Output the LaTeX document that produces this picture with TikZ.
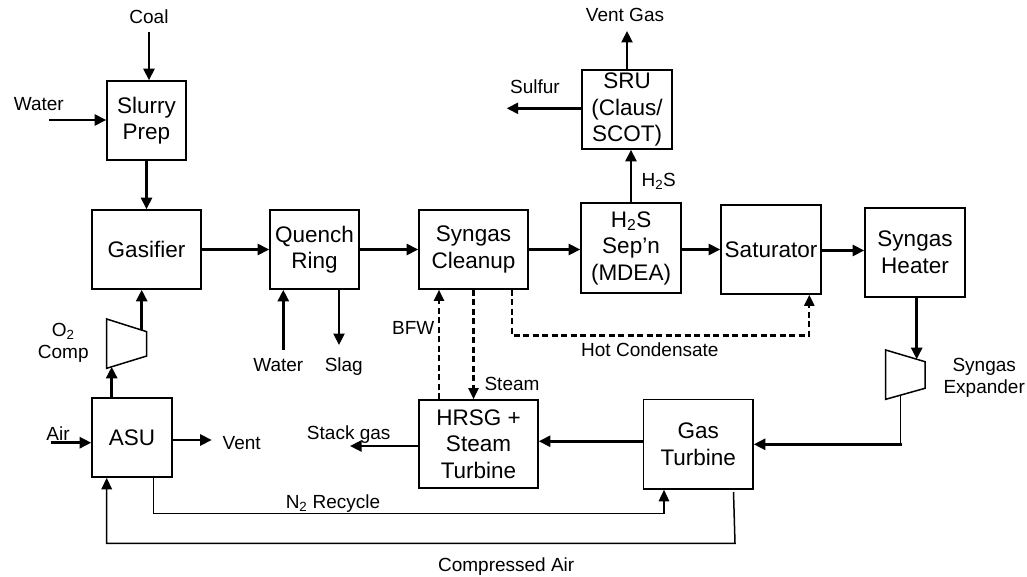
\documentclass[tikz,border=0pt]{standalone}
\usepackage{fontspec}
\setmainfont{Liberation Sans}
\usetikzlibrary{arrows.meta}
\newcommand{\bxfont}{\fontsize{22.5}{26.5}\selectfont}
\newcommand{\lbfont}{\fontsize{19}{22.6}\selectfont}
\begin{document}
\begin{tikzpicture}[x=1pt,y=-1pt,
  box/.style={draw, line width=1.6pt, inner sep=0pt, align=center, font=\bxfont},
  lbl/.style={inner sep=0pt, font=\lbfont},
  lbl2/.style={inner sep=0pt, font=\lbfont, align=center},
  flow/.style={line width=2.5pt, -{Triangle[length=11.5pt,width=11pt]}},
  thinflow/.style={line width=1.5pt, -{Triangle[length=11.5pt,width=10.5pt]}},
  dflow/.style={line width=2.2pt, dash pattern=on 6pt off 3.5pt, -{Triangle[length=11pt,width=10pt]}},
  unitshape/.style={draw, line width=1.5pt, line join=miter}
]
\fill[white] (0,0) rectangle (1027,577);
\useasboundingbox (0,0) rectangle (1027,577);

% ---------- boxes ----------
\node[box, minimum width=79pt, minimum height=79pt] (slurry) at (146.5,120.5) {Slurry\\Prep};
\node[box, minimum width=109pt, minimum height=79pt] (gasifier) at (146.5,249.5) {Gasifier};
\node[box, minimum width=89pt, minimum height=79pt] (quench) at (314.5,249.5) {Quench\\Ring};
\node[box, minimum width=109pt, minimum height=79pt] (cleanup) at (473.5,249.5) {Syngas\\Cleanup};
\node[box, minimum width=100pt, minimum height=90pt] (h2s) at (631,248) {H\textsubscript{2}S\\Sep’n\\(MDEA)};
\node[box, minimum width=90pt, minimum height=79pt] (sru) at (627,109.5) {SRU\\(Claus/\\SCOT)};
\node[box, minimum width=100pt, minimum height=89pt] (sat) at (771,249.5) {Saturator};
\node[box, minimum width=100pt, minimum height=89pt] (heater) at (915,252.5) {Syngas\\Heater};
\node[box, minimum width=80pt, minimum height=79pt] (asu) at (132,437.5) {ASU};
\node[box, minimum width=119pt, minimum height=88pt] (hrsg) at (478.5,444) {HRSG +\\Steam\\Turbine};
\node[box, minimum width=109.5pt, minimum height=89.5pt] (gt) at (698.25,444.25) {Gas\\Turbine};

% ---------- compressor / expander ----------
\coordinate (c1) at (106.7,319);
\coordinate (c2) at (146.7,331.7);
\coordinate (c3) at (146.7,356);
\coordinate (c4) at (106.7,368.3);
\draw[unitshape] (c1) -- (c2) -- (c3) -- (c4) -- cycle;
\coordinate (e1) at (885.7,350);
\coordinate (e2) at (925,361.7);
\coordinate (e3) at (925,388.3);
\coordinate (e4) at (885.7,399.3);
\draw[unitshape] (e1) -- (e2) -- (e3) -- (e4) -- cycle;

% ---------- labels ----------
\node[lbl, anchor=base] (coal) at (149,23.5) {Coal};
\node[lbl, anchor=base] (water1) at (38.8,111) {Water};
\node[lbl, anchor=base] (ventgas) at (625,22) {Vent Gas};
\node[lbl, anchor=base] (sulfur) at (535,94) {Sulfur};
\node[lbl, anchor=base] (h2slbl) at (658.7,186.5) {H\textsubscript{2}S};
\node[lbl2, anchor=north] (o2comp) at (63.3,322.9) {O\textsubscript{2}\\Comp};
\node[lbl, anchor=base] (air) at (58,440) {Air};
\node[lbl, anchor=base] (vent) at (241.7,449) {Vent};
\node[lbl, anchor=base] (water2) at (278.3,371) {Water};
\node[lbl, anchor=base] (slag) at (343.8,371) {Slag};
\node[lbl, anchor=base] (bfw) at (413.3,334) {BFW};
\node[lbl, anchor=base] (steam) at (512,390) {Steam};
\node[lbl, anchor=base west] (hotcond) at (581,356) {Hot Condensate};
\node[lbl, anchor=base] (stack) at (348.7,439) {Stack gas};
\node[lbl, anchor=base] (n2lbl) at (333,508.3) {N\textsubscript{2} Recycle};
\node[lbl, anchor=base] (calbl) at (506.2,571.7) {Compressed Air};
\node[lbl2, anchor=north] (explbl) at (984.2,357.9) {Syngas\\Expander};

% ---------- main flow ----------
\coordinate (coalin) at (149,32);
\draw[flow] (coalin) -- (coalin |- slurry.north);
\coordinate (waterin) at (49,120);
\draw[flow] (waterin) -- (waterin -| slurry.west);
\draw[flow] (slurry.south) -- (gasifier.north);
\draw[flow] (gasifier.east) -- (quench.west);
\draw[flow] (quench.east) -- (quench.east -| cleanup.west);
\draw[flow] (cleanup.east) -- (cleanup.east -| h2s.west);
\draw[flow] (sat.west -| h2s.east) -- (sat.west);
\draw[flow] ([yshift=-1pt]sat.east) -- ([yshift=-1pt]sat.east -| heater.west);
\draw[flow] (h2s.north) -- (h2s.north |- sru.south);
\coordinate (ventout) at (627,31);
\draw[flow] (sru.north) -- (ventout);
\coordinate (sulfurout) at (506.7,108.3);
\draw[flow] (sru.west |- sulfurout) -- (sulfurout);

% quench water / slag
\coordinate (qwater) at (283.3,350);
\draw[flow] (qwater) -- (qwater |- quench.south);
\coordinate (slagout) at (339,345);
\draw[flow] (slagout |- quench.south) -- (slagout);

% syngas heater -> expander -> gas turbine
\coordinate (expin) at (916.7,359.2);
\draw[flow] (expin |- heater.south) -- (expin);
\coordinate (expout) at (900.7,395.1);
\coordinate (expcorner) at (900.7,444.3);
\draw[line width=1.5pt] (expout) -- (expcorner);
\draw[flow] ([xshift=1.3pt]expcorner) -- (expcorner -| gt.east);

% gas turbine -> HRSG -> stack
\draw[flow] ([yshift=3pt]gt.west) -- ([yshift=3pt]gt.west -| hrsg.east);
\coordinate (stackout) at (350,446);
\draw[flow] (stackout -| hrsg.west) -- (stackout);

% ASU, O2 compressor
\coordinate (compin) at (111.7,366.8);
\draw[flow] (compin |- asu.north) -- (compin);
\coordinate (compout) at (141.7,330.1);
\draw[flow] (compout) -- (compout |- gasifier.south);
\coordinate (airin) at (50.7,442.7);
\draw[flow] (airin) -- (airin -| asu.west);
\coordinate (ventout2) at (211.7,440);
\draw[flow] (ventout2 -| asu.east) -- (ventout2);

% steam system (dashed)
\coordinate (bfwx) at (439,400);
\draw[dflow] (bfwx |- hrsg.north) -- (bfwx |- cleanup.south);
\draw[dflow] (cleanup.south) -- (cleanup.south |- hrsg.north);
\coordinate (hc1) at (511.7,335.5);
\coordinate (hc2) at (809.3,335.5);
\draw[dflow] (hc1 |- cleanup.south) -- (hc1) -- (hc2) -- (hc2 |- sat.south);

% N2 recycle and compressed air
\coordinate (n2a) at (153.3,513.3);
\coordinate (n2b) at (664,513.3);
\draw[thinflow] (n2a |- asu.south) -- (n2a) -- (n2b) -- (n2b |- gt.south);
\coordinate (ca1) at (733.5,492);
\coordinate (ca2) at (735,543.3);
\coordinate (ca3) at (106.7,543.3);
\draw[thinflow] (ca1) -- (ca2) -- (ca3) -- (ca3 |- asu.south);
\end{tikzpicture}
\end{document}
